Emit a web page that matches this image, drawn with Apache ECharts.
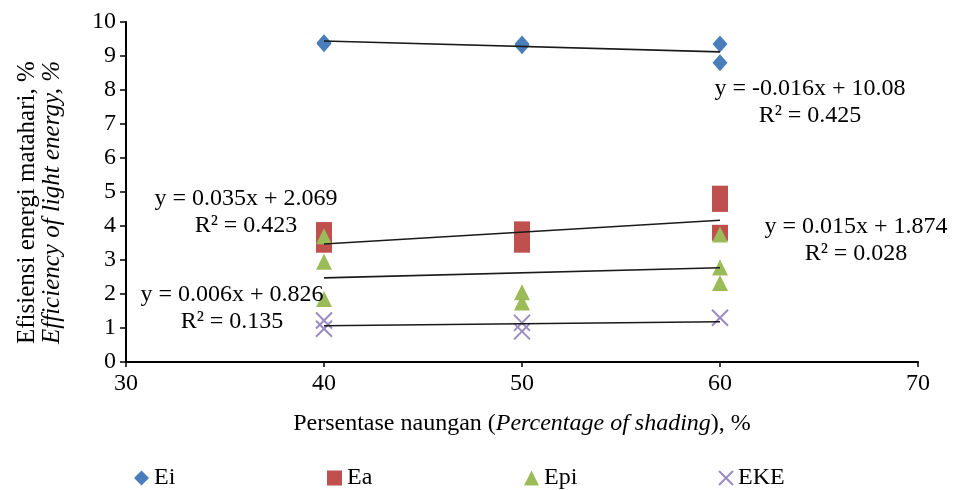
<!DOCTYPE html>
<html>
<head>
<meta charset="utf-8">
<script src="https://cdn.jsdelivr.net/npm/echarts@6/dist/echarts.min.js"></script>
<style>
html,body{margin:0;padding:0;background:#fff;}
#chart{width:957px;height:490px;}
</style>
</head>
<body>
<div id="chart"></div>
<script>
// ---- data ----
const seriesNames = ['Ei', 'Ea', 'Epi', 'EKE'];
const xTicks = [30, 40, 50, 60, 70];
const yTicks = [0, 1, 2, 3, 4, 5, 6, 7, 8, 9, 10];

const eiPoints = [[40, 9.39], [40, 9.36], [50, 9.35], [50, 9.30], [60, 9.35], [60, 8.80]];
const eaPoints = [[40, 3.88], [40, 3.45], [50, 3.90], [50, 3.45], [60, 4.95], [60, 4.65], [60, 3.80]];
const epiPoints = [[40, 3.70], [40, 2.95], [40, 1.85], [50, 2.05], [50, 1.75], [60, 3.75], [60, 2.78], [60, 2.32]];
const ekePoints = [[40, 1.22], [40, 0.98], [50, 1.15], [50, 0.90], [60, 1.30]];

// trendline equations: y = slope*x + intercept
const trendSlopes = [-0.016, 0.035, 0.015, 0.006];
const trendIntercepts = [10.08, 2.069, 1.874, 0.826];
const trendR2 = ['0.425', '0.423', '0.028', '0.135'];
const trendRange = [40, 60];

// ---- chart ----
const FONT = 'Liberation Serif';
const colors = ['#4A7EBB', '#C0504D', '#9BBB59', '#9A8BC4'];
const symbols = ['diamond', 'rect', 'triangle', 'path://M0,0L10,10M10,0L0,10'];
const symbolSizes = [[15, 17], [16, 16], [16, 16], [16, 16]];
const pointSets = [eiPoints, eaPoints, epiPoints, ekePoints];

function eqText(i) {
  return 'y = ' + trendSlopes[i] + 'x + ' + trendIntercepts[i];
}

function itemStyleFor(i) {
  return i === 3
    ? { color: colors[i], borderColor: colors[i], borderWidth: 2, opacity: 1 }
    : { color: colors[i], borderWidth: 0, opacity: 1 };
}

const series = [];
seriesNames.forEach((name, i) => {
  series.push({
    name: name,
    type: 'scatter',
    data: pointSets[i],
    symbol: symbols[i],
    symbolSize: symbolSizes[i],
    itemStyle: itemStyleFor(i),
    z: 2 + i
  });
});
seriesNames.forEach((name, i) => {
  series.push({
    name: name + ' trend',
    type: 'line',
    data: trendRange.map(x => [x, trendSlopes[i] * x + trendIntercepts[i]]),
    showSymbol: false,
    symbol: 'none',
    lineStyle: { color: '#1a1a1a', width: 1.6 },
    silent: true,
    z: 10
  });
});

const eqPos = [
  { x: 810, y: 89 },
  { x: 246, y: 199 },
  { x: 856, y: 227 },
  { x: 232, y: 295 }
];
const FS = 24;
const graphics = [];
eqPos.forEach((p, i) => {
  graphics.push({
    type: 'text', x: p.x, y: p.y, z: 100,
    style: { text: eqText(i), font: FS + 'px "' + FONT + '"', fill: '#000', textAlign: 'center', textVerticalAlign: 'middle' }
  });
  graphics.push({
    type: 'text', x: p.x, y: p.y + 27, z: 100,
    style: { text: 'R² = ' + trendR2[i], font: FS + 'px "' + FONT + '"', fill: '#000', textAlign: 'center', textVerticalAlign: 'middle' }
  });
});
// y-axis title (two lines, rotated; both start at the same position)
graphics.push({
  type: 'text', x: 27, y: 344, rotation: Math.PI / 2, z: 100,
  style: { text: 'Efisiensi energi matahari, %', font: '25px "' + FONT + '"', fill: '#000', textAlign: 'left', textVerticalAlign: 'middle' }
});
graphics.push({
  type: 'text', x: 52, y: 344, rotation: Math.PI / 2, z: 100,
  style: { text: 'Efficiency of light energy, %', font: 'italic 25px "' + FONT + '"', fill: '#000', textAlign: 'left', textVerticalAlign: 'middle' }
});

const legendLefts = [129, 322, 519, 713];
const legends = seriesNames.map((name, i) => ({
  data: [{ name: name, icon: symbols[i], itemStyle: itemStyleFor(i) }],
  left: legendLefts[i],
  top: 461,
  itemWidth: i === 3 ? 14 : 15,
  itemHeight: i === 3 ? 14 : 15,
  itemGap: 3,
  textStyle: { fontFamily: FONT, fontSize: 24, color: '#000' },
  selectedMode: false
}));

const chart = echarts.init(document.getElementById('chart'), null, { renderer: 'canvas' });
chart.setOption({
  animation: false,
  backgroundColor: '#fff',
  color: colors,
  textStyle: { fontFamily: FONT },
  grid: { left: 126, right: 39, top: 22, bottom: 128, containLabel: false },
  legend: legends,
  xAxis: {
    type: 'value',
    min: xTicks[0], max: xTicks[xTicks.length - 1], interval: 10,
    name: '{n|Persentase naungan (}{i|Percentage of shading}{n|), %}',
    nameLocation: 'middle', nameGap: 50,
    nameTextStyle: { rich: { n: { fontFamily: FONT, fontSize: 24, color: '#000' }, i: { fontFamily: FONT, fontSize: 24, fontStyle: 'italic', color: '#000' } } },
    axisLine: { lineStyle: { color: '#000', width: 2 } },
    axisTick: { show: true, length: 5, lineStyle: { color: '#000', width: 1.5 } },
    axisLabel: { fontFamily: FONT, fontSize: 24, color: '#000', margin: 10 },
    splitLine: { show: false }
  },
  yAxis: {
    type: 'value',
    min: yTicks[0], max: yTicks[yTicks.length - 1], interval: 1,
    axisLine: { show: true, lineStyle: { color: '#000', width: 2 } },
    axisTick: { show: true, length: 6, lineStyle: { color: '#000', width: 1.5 } },
    axisLabel: { fontFamily: FONT, fontSize: 24, color: '#000', margin: 10 },
    splitLine: { show: false }
  },
  graphic: graphics,
  series: series
});
</script>
</body>
</html>
